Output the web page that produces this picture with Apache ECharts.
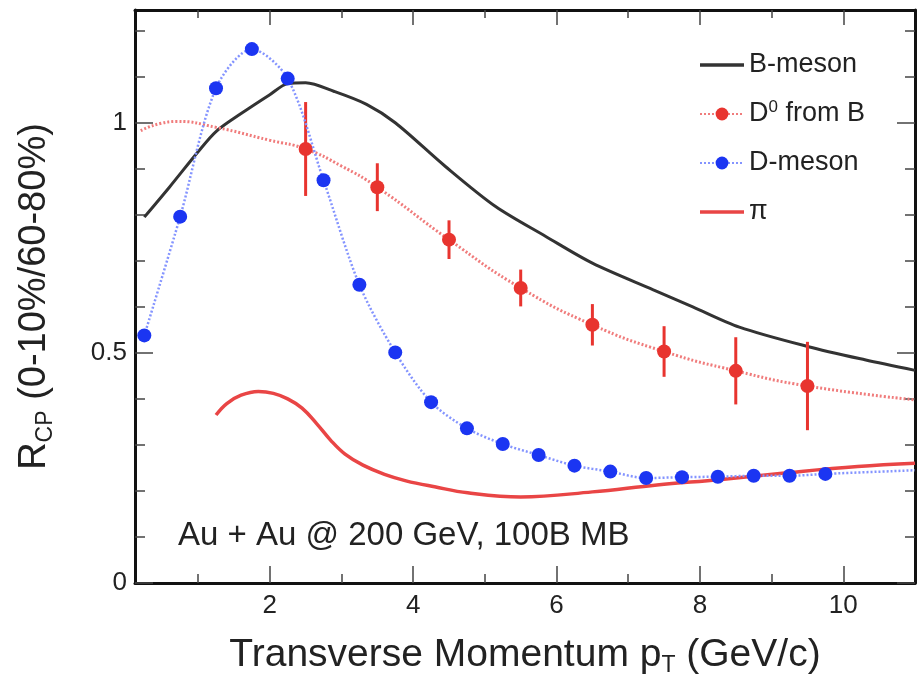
<!DOCTYPE html>
<html>
<head>
<meta charset="utf-8">
<script src="https://cdn.jsdelivr.net/npm/echarts@6/dist/echarts.min.js"></script>
<style>
  html, body { margin: 0; padding: 0; background: #fff; }
  #chart { width: 918px; height: 684px; }
</style>
</head>
<body>
<div id="chart"></div>
<script>
// B-meson R_CP model curve
const bMesonPt  = [0.25, 0.6, 1.0, 1.25, 1.6, 2.0, 2.25, 2.5, 2.9, 3.35, 3.75, 4.45, 5.15, 5.85, 6.5, 7.35, 7.9, 8.55, 9.5, 10.3, 11];
const bMesonRcp = [0.795, 0.86, 0.937, 0.981, 1.02, 1.061, 1.085, 1.087, 1.068, 1.04, 1.0, 0.905, 0.818, 0.753, 0.695, 0.637, 0.6, 0.556, 0.514, 0.485, 0.462];

// charged pion R_CP curve
const pionPt  = [1.25, 1.4, 1.6, 1.84, 2.05, 2.25, 2.45, 2.65, 2.85, 3.05, 3.3, 3.6, 3.9, 4.3, 4.76, 5.5, 6.5, 7.4, 8.3, 9.25, 10.2, 11];
const pionRcp = [0.365, 0.39, 0.408, 0.416, 0.412, 0.4, 0.38, 0.347, 0.31, 0.28, 0.256, 0.236, 0.222, 0.209, 0.196, 0.187, 0.198, 0.213, 0.225, 0.24, 0.253, 0.26];

// D-meson projected points
const dMesonPt  = [0.25, 0.75, 1.25, 1.75, 2.25, 2.75, 3.25, 3.75, 4.25, 4.75, 5.25, 5.75, 6.25, 6.75, 7.25, 7.75, 8.25, 8.75, 9.25, 9.75];
const dMesonRcp = [0.538, 0.796, 1.075, 1.16, 1.096, 0.875, 0.648, 0.501, 0.393, 0.336, 0.302, 0.278, 0.255, 0.242, 0.228, 0.23, 0.231, 0.233, 0.233, 0.237];
// guide line continues past the last point
const dMesonTailPt  = [11];
const dMesonTailRcp = [0.245];

// D0 from B-decay projected points with uncertainties
const d0Pt  = [2.5, 3.5, 4.5, 5.5, 6.5, 7.5, 8.5, 9.5];
const d0Rcp = [0.943, 0.86, 0.746, 0.641, 0.561, 0.503, 0.461, 0.428];
const d0Err = [0.102, 0.052, 0.042, 0.04, 0.045, 0.055, 0.073, 0.096];
// extra vertices of the D0 guide curve
const d0GuidePt  = [0.2, 0.7, 1.25, 2.0, 3.0, 11];
const d0GuideRcp = [0.983, 1.003, 0.99, 0.962, 0.906, 0.398];

// axis ticks
const xMajorTicks = [2, 4, 6, 8, 10];
const xMinorTicks = [1, 3, 5, 7, 9];
const yMajorTicks = [0, 0.5, 1];
const yMinorTicks = [0.1, 0.2, 0.3, 0.4, 0.6, 0.7, 0.8, 0.9, 1.1, 1.2];

const X_MIN = 0.12, X_MAX = 11, Y_MIN = 0, Y_MAX = 1.245;
const FONT = 'Liberation Sans';

function zip(xs, ys) { return xs.map((x, i) => [x, ys[i]]); }

// measured points keep their marker, guide vertices are drawn as line only
function mergeWithGuide(px, py, gx, gy) {
  const items = px.map((x, i) => ({ value: [x, py[i]] }))
    .concat(gx.map((x, i) => ({ value: [x, gy[i]], symbol: 'none' })));
  return items.sort((a, b) => a.value[0] - b.value[0]);
}

const gridRect = { left: 135, right: 3, top: 10, bottom: 101, outerBoundsMode: 'none' };
const grids = [0, 1, 2, 3].map(() => Object.assign({}, gridRect));

const tickLine = { color: '#444', width: 1.5 };
const frameLine = { show: true, onZero: false, lineStyle: { color: '#111', width: 3 } };
const noLine = { show: false, onZero: false };

function xAxisDef(grid, pos, ticks, len, withFrame, withLabel) {
  return {
    gridIndex: grid, type: 'value', min: X_MIN, max: X_MAX, position: pos,
    axisLine: withFrame ? frameLine : noLine,
    axisTick: { show: true, inside: true, length: len, customValues: ticks, lineStyle: tickLine },
    axisLabel: withLabel
      ? { show: true, customValues: ticks, fontSize: 26, color: '#222', margin: 10, fontFamily: FONT }
      : { show: false },
    splitLine: { show: false }
  };
}
function yAxisDef(grid, pos, ticks, len, withFrame, withLabel) {
  return {
    gridIndex: grid, type: 'value', min: Y_MIN, max: Y_MAX, position: pos,
    axisLine: withFrame ? frameLine : noLine,
    axisTick: { show: true, inside: true, length: len, customValues: ticks, lineStyle: tickLine },
    axisLabel: withLabel
      ? { show: true, customValues: ticks, fontSize: 26, color: '#222', margin: 8, fontFamily: FONT }
      : { show: false },
    splitLine: { show: false }
  };
}

const subStyle = { sub: { fontSize: 23, lineHeight: 16, verticalAlign: 'bottom', fontFamily: FONT, color: '#222' } };

const xAxes = [
  xAxisDef(0, 'bottom', xMajorTicks, 17, true, true),
  xAxisDef(1, 'bottom', xMinorTicks, 9, false, false),
  xAxisDef(2, 'top', xMajorTicks, 15, true, false),
  xAxisDef(3, 'top', xMinorTicks, 8, false, false)
];
Object.assign(xAxes[0], {
  name: 'Transverse Momentum p{sub|T} (GeV/c)',
  nameLocation: 'middle',
  nameGap: 50,
  nameTextStyle: { fontSize: 39, color: '#222', fontFamily: FONT, lineHeight: 44, rich: subStyle }
});

const yAxes = [
  yAxisDef(0, 'left', yMajorTicks, 18, true, true),
  yAxisDef(1, 'left', yMinorTicks, 10, false, false),
  yAxisDef(2, 'right', yMajorTicks, 18, true, false),
  yAxisDef(3, 'right', yMinorTicks, 10, false, false)
];
Object.assign(yAxes[0], {
  name: 'R{sub|CP} (0-10%/60-80%)',
  nameLocation: 'middle',
  nameGap: 78,
  nameTextStyle: { fontSize: 38, color: '#222', fontFamily: FONT, lineHeight: 44, rich: subStyle }
});

const RED = '#e8342f';
const BLUE = '#1b35f2';
const BAR_ICON = 'path://M0,0H44V3.5H0Z';

const option = {
  animation: false,
  backgroundColor: '#fff',
  textStyle: { fontFamily: FONT },
  grid: grids,
  xAxis: xAxes,
  yAxis: yAxes,
  legend: {
    orient: 'vertical',
    left: 694, top: 45,
    itemWidth: 44, itemHeight: 16, itemGap: 19,
    data: [
      { name: 'B-meson', icon: BAR_ICON },
      { name: 'D0 from B' },
      { name: 'D-meson' },
      { name: 'π', icon: BAR_ICON }
    ],
    formatter: n => n === 'D0 from B' ? 'D{sup|0} from B' : n,
    textStyle: {
      fontSize: 27, color: '#222', fontFamily: FONT, lineHeight: 30,
      rich: { sup: { fontSize: 17, lineHeight: 14, verticalAlign: 'top', fontFamily: FONT, color: '#222' } }
    }
  },
  graphic: [{
    type: 'text', left: 178, top: 519,
    style: { text: 'Au + Au @ 200 GeV, 100B MB', font: '33px "Liberation Sans"', fill: '#222' }
  }],
  series: [
    {
      name: 'B-meson', type: 'line', xAxisIndex: 0, yAxisIndex: 0,
      data: zip(bMesonPt, bMesonRcp), symbol: 'none', smooth: 0.3,
      lineStyle: { color: '#333', width: 3 }, itemStyle: { color: '#333' }, z: 2
    },
    {
      name: 'π', type: 'line', xAxisIndex: 0, yAxisIndex: 0,
      data: zip(pionPt, pionRcp), symbol: 'none', smooth: 0.4,
      lineStyle: { color: '#e94545', width: 3.5 }, itemStyle: { color: '#e94545' }, z: 2
    },
    {
      name: 'D0 from B', type: 'line', xAxisIndex: 0, yAxisIndex: 0,
      data: mergeWithGuide(d0Pt, d0Rcp, d0GuidePt, d0GuideRcp),
      symbol: 'circle', symbolSize: 14, showSymbol: true, smooth: 0.5,
      lineStyle: { color: '#f07c7c', width: 3, type: [2, 2] },
      itemStyle: { color: RED }, z: 4
    },
    {
      name: 'D0 from B err', type: 'custom', xAxisIndex: 0, yAxisIndex: 0,
      data: d0Pt.map((x, i) => [x, d0Rcp[i], d0Err[i]]),
      renderItem: (params, api) => {
        const x = api.value(0), y = api.value(1), e = api.value(2);
        const p1 = api.coord([x, y - e]);
        const p2 = api.coord([x, y + e]);
        return {
          type: 'line',
          shape: { x1: p1[0], y1: p1[1], x2: p2[0], y2: p2[1] },
          style: { stroke: RED, lineWidth: 3 }
        };
      },
      z: 3, silent: true
    },
    {
      name: 'D-meson', type: 'line', xAxisIndex: 0, yAxisIndex: 0,
      data: mergeWithGuide(dMesonPt, dMesonRcp, dMesonTailPt, dMesonTailRcp),
      symbol: 'circle', symbolSize: 14, showSymbol: true, smooth: 0.3,
      lineStyle: { color: '#8494ff', width: 2.5, type: [2, 2] },
      itemStyle: { color: BLUE }, z: 5
    }
  ]
};

const chart = echarts.init(document.getElementById('chart'), null, { renderer: 'canvas' });
chart.setOption(option);
</script>
</body>
</html>
